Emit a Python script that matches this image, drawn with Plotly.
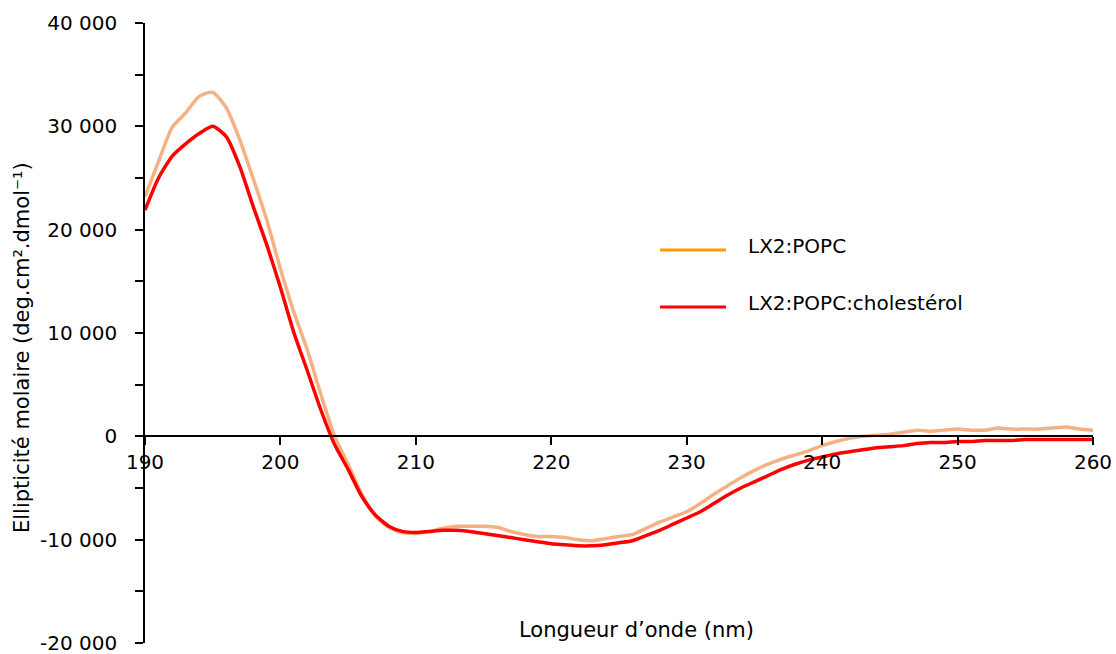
import plotly.graph_objects as go

# Wavelength grid (nm)
wavelength = list(range(190, 261))

# Molar ellipticity (deg.cm2.dmol-1)
popc = [
    23200, 26600, 29900, 31300, 32900, 33300, 31800, 28700, 24900, 20900,
    16200, 12000, 8300, 4000, 0, -2700, -5600, -7700, -8800, -9300,
    -9400, -9200, -8900, -8700, -8700, -8700, -8800, -9200, -9500, -9700,
    -9700, -9800, -10000, -10100, -9900, -9700, -9500, -8900, -8300, -7800,
    -7300, -6500, -5600, -4800, -4000, -3300, -2700, -2200, -1800, -1400,
    -900, -500, -200, 0, 100, 200, 400, 600, 500, 600,
    700, 600, 600, 800, 700, 700, 700, 800, 900, 700,
    600,
]
popc_chol = [
    21900, 25000, 27100, 28300, 29300, 30000, 29000, 26100, 22200, 18500,
    14400, 10000, 6300, 2500, -800, -3200, -5800, -7600, -8700, -9200,
    -9300, -9200, -9100, -9100, -9200, -9400, -9600, -9800, -10000, -10200,
    -10400, -10500, -10600, -10600, -10500, -10300, -10100, -9600, -9100, -8500,
    -7900, -7300, -6500, -5700, -5000, -4400, -3800, -3200, -2700, -2300,
    -2000, -1700, -1500, -1300, -1100, -1000, -900, -700, -600, -600,
    -500, -500, -400, -400, -400, -300, -300, -300, -300, -300,
    -300,
]

series_names = ["LX2:POPC", "LX2:POPC:cholestérol"]
line_colors = ["#F4B183", "#FF0000"]
legend_colors = ["#FF9900", "#FF0000"]

y_ticks = list(range(-20000, 40001, 5000))
y_ticktext = [(f"{v:,}".replace(",", " ") if v % 10000 == 0 else "") for v in y_ticks]
x_ticks = list(range(190, 261, 10))

FONT = "'DejaVu Sans', sans-serif"
FS = 20

fig = go.Figure()
fig.add_trace(go.Scatter(x=wavelength, y=popc, mode="lines", name=series_names[0],
                         line=dict(color=line_colors[0], width=3.5, shape="spline", smoothing=0.6)))
fig.add_trace(go.Scatter(x=wavelength, y=popc_chol, mode="lines", name=series_names[1],
                         line=dict(color=line_colors[1], width=3.5, shape="spline", smoothing=0.6)))

W, H = 1116, 654
L, R, T, B = 145, 23, 23, 11
pw, ph = W - L - R, H - T - B

def px_x(p):
    return (p - L) / pw

def px_y(p):
    return 1 - (p - T) / ph

# Legend drawn as short line samples with labels
for i, (name, col) in enumerate(zip(series_names, legend_colors)):
    yy = px_y(250 + i * 57)
    fig.add_shape(type="line", xref="paper", yref="paper",
                  x0=px_x(660), x1=px_x(726), y0=yy, y1=yy,
                  line=dict(color=col, width=3))
    fig.add_annotation(xref="paper", yref="paper", x=px_x(746), y=yy + 0.006,
                       text=name, showarrow=False, xanchor="left", yanchor="middle",
                       font=dict(family=FONT, size=FS, color="#000000"))

fig.add_annotation(xref="paper", yref="paper", x=px_x(636), y=px_y(630),
                   text="Longueur d’onde (nm)", showarrow=False,
                   xanchor="center", yanchor="middle",
                   font=dict(family=FONT, size=21, color="#000000"))
fig.add_annotation(xref="paper", yref="paper", x=(22 - L) / pw, y=px_y(348),
                   text="Ellipticité molaire (deg.cm².dmol⁻¹)", showarrow=False,
                   textangle=-90, xanchor="center", yanchor="middle",
                   font=dict(family=FONT, size=21, color="#000000"))

fig.update_layout(
    width=W, height=H,
    margin=dict(l=L, r=R, t=T, b=B, autoexpand=False),
    paper_bgcolor="white", plot_bgcolor="white",
    showlegend=False,
    font=dict(family=FONT, size=FS, color="#000000"),
    xaxis=dict(range=[190, 260], tickvals=x_ticks, ticks="outside", ticklen=8,
               tickwidth=1.5, tickcolor="black", showline=True, linecolor="black",
               linewidth=1.5, showgrid=False, zeroline=False, automargin=False,
               anchor="free", position=1 / 3, ticklabeloverflow="allow",
               tickfont=dict(family=FONT, size=FS, color="#000000")),
    yaxis=dict(range=[-20000, 40000], tickvals=y_ticks, ticktext=y_ticktext,
               ticks="outside", ticklen=8, tickwidth=1.5, tickcolor="black",
               showline=True, linecolor="black", linewidth=1.5, showgrid=False,
               zeroline=False, ticklabelstandoff=14, automargin=False,
               ticklabeloverflow="allow",
               tickfont=dict(family=FONT, size=FS, color="#000000")),
)

fig.write_html("out.html")
